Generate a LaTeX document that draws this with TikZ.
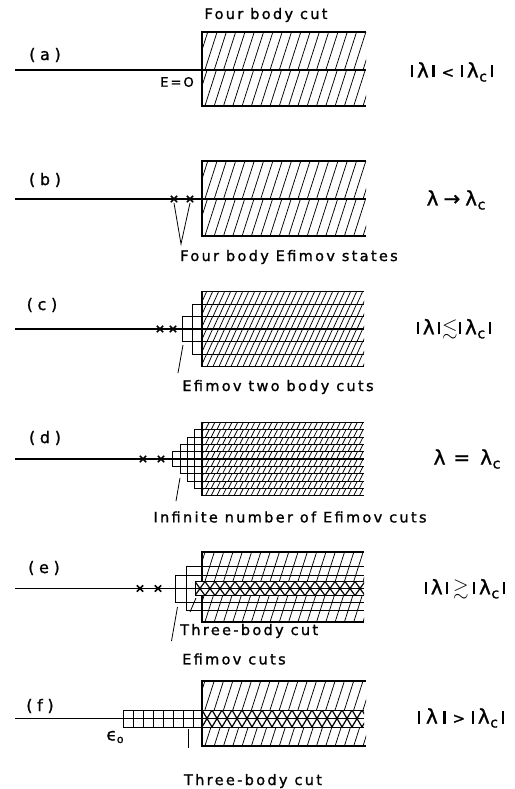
\documentclass[tikz,border=0pt]{standalone}
\usepackage{fontspec}
\usepackage{amssymb}
\setmainfont{DejaVu Sans}
\newfontfamily\lblfont[LetterSpace=16,FakeBold=1.2]{DejaVu Sans}
\newfontfamily\parfont[LetterSpace=29,FakeBold=1.2]{DejaVu Sans}
\newfontfamily\relfont[FakeBold=1.2]{DejaVu Sans}
\newcommand\myvbar{\kern0.18em\rule[0em]{0.11em}{0.62em}\kern0.18em}
\newcommand\lamc{λ\kern0.03em\raisebox{-0.2em}{\fontsize{14}{14}\selectfont c}}
\newcommand\hstrip[6]{%
  \begin{scope}
    \clip (#1,#2) rectangle (#3,#4);
    \pgfmathsetmacro\hsh{(#4)-(#2)}
    \pgfmathsetmacro\hsb{#4}
    \foreach \k in {0,...,45}{
      \draw[hatchline] ({#1-25+\k*#5},\hsb) -- ++({#6*\hsh},{-\hsh});
    }
  \end{scope}}
\newcommand\zigband[5]{%
  \begin{scope}
    \clip (#1,#3) rectangle (#2,#5);
    \foreach \k in {0,...,18}{
      \draw[zigline] ({#1+\k*10},#3) -- ({#1+\k*10+5},#4) -- ({#1+\k*10+10},#3)
                     ({#1+\k*10},#5) -- ({#1+\k*10+5},#4) -- ({#1+\k*10+10},#5);
    }
  \end{scope}}
\newcommand\crossat[2]{\draw[crossline] ({#1-3.2},{#2-3.2}) -- ({#1+3.2},{#2+3.2}) ({#1-3.2},{#2+3.2}) -- ({#1+3.2},{#2-3.2});}
\tikzset{
  axisline/.style={line width=1.8pt},
  boxline/.style={line width=1.5pt},
  gridline/.style={line width=1.0pt},
  hatchline/.style={line width=0.75pt},
  zigline/.style={line width=1.2pt},
  crossline/.style={line width=1.5pt},
  pointer/.style={line width=0.8pt},
  lab/.style={font=\lblfont\fontsize{14.5}{16}\selectfont, inner sep=0pt},
  plabel/.style={font=\parfont\fontsize{16}{18}\selectfont, inner sep=0pt},
  rlab/.style={font=\relfont\fontsize{20}{22}\selectfont, inner sep=0pt},
}
\begin{document}
\begin{tikzpicture}[x=1pt,y=-1pt]
\useasboundingbox[fill=white] (0,0) rectangle (514,789);

% ---------------- (a)
\node[plabel] (pa) at (45,55) {(a)};
\hstrip{202}{32}{366}{70}{9.3}{0.32}
\hstrip{202}{70}{366}{106}{9.3}{0.32}
\draw[boxline] (366,32) -- (202,32) -- (202,106) -- (366,106);
\draw[axisline] (15,70) -- (366,70);
\node[lab] (ta) at (266,15) {Four body cut};
\node[lab, font=\lblfont\fontsize{13}{14}\selectfont] (ea) at (177,82) {E=O};
\node[rlab] (ra) at (452,72) {\myvbar λ\myvbar\,{\fontsize{15}{15}\selectfont <}\,\myvbar\lamc\myvbar};

% ---------------- (b)
\node[plabel] (pb) at (45,180) {(b)};
\hstrip{202}{161}{366}{199}{9.3}{0.32}
\hstrip{202}{199}{366}{236}{9.3}{0.32}
\draw[boxline] (366,161) -- (202,161) -- (202,236) -- (366,236);
\draw[axisline] (15,199) -- (366,199);
\crossat{174}{199}
\crossat{190}{199}
\coordinate (vb) at (181,244);
\draw[pointer] (174,203) -- (vb) -- (190,203);
\node[lab] (tb) at (289,257) {Four body Efimov states};
\node[rlab] (rb) at (456,200) {λ\kern0.25em→\kern0.25em\lamc};

% ---------------- (c)
\node[plabel] (pc) at (42,305) {(c)};
\foreach \j in {-3,...,2}{
  \hstrip{202}{329+\j*12.5}{364}{329+\j*12.5+12.5}{6}{0.45}
}
\draw[boxline] (364,291.5) -- (202,291.5) -- (202,366.5) -- (364,366.5);
\draw[gridline] (192,304) rectangle (202,354);
\draw[gridline] (182,316.5) rectangle (192,341.5);
\draw[gridline] (182,316.5) -- (364,316.5) (182,341.5) -- (364,341.5);
\draw[gridline] (192,304) -- (364,304) (192,354) -- (364,354);
\draw[axisline] (15,329) -- (364,329);
\crossat{160}{329}
\crossat{173}{329}
\coordinate (pcend) at (178,373);
\draw[pointer] (183,345) -- (pcend);
\node[lab] (tc) at (278,387) {Efimov two body cuts};
\node[rlab] (rc) at (454,329) {\myvbar λ\myvbar\kern-0.1em$\lesssim$\kern-0.1em\myvbar\lamc\myvbar};

% ---------------- (d)
\node[plabel] (pd) at (45,438) {(d)};
\foreach \j in {-5,...,4}{
  \hstrip{202}{459+\j*7.333}{364}{459+\j*7.333+7.333}{5.7}{0.5}
}
\draw[boxline] (364,422.33) -- (202,422.33) -- (202,495.67) -- (364,495.67);
\foreach \k in {1,...,4}{
  \draw[gridline] ({202-\k*7.333},{459-(5-\k)*7.333}) rectangle (202,{459+(5-\k)*7.333});
}
\foreach \j in {1,...,4}{
  \draw[gridline] ({202-(5-\j)*7.333},{459+\j*7.333}) -- (364,{459+\j*7.333});
  \draw[gridline] ({202-(5-\j)*7.333},{459-\j*7.333}) -- (364,{459-\j*7.333});
}
\draw[axisline] (15,459) -- (364,459);
\crossat{143}{459}
\crossat{161}{459}
\coordinate (pdend) at (176,501);
\draw[pointer] (180,478) -- (pdend);
\node[lab] (td) at (290,517) {Infinite number of Efimov cuts};
\node[rlab] (rd) at (467,459) {λ\kern0.4em=\kern0.5em\lamc};

% ---------------- (e)
\node[plabel] (pe) at (44,568) {(e)};
\hstrip{202}{552}{364}{581.5}{9.3}{0.32}
\hstrip{202}{595.5}{364}{622}{9.3}{0.32}
\draw[boxline] (364,552) -- (202,552) -- (202,622) -- (364,622);
\draw[gridline] (186,566.5) rectangle (202,610.5);
\draw[gridline] (175,575) rectangle (186,602);
\draw[gridline] (186,566.5) -- (364,566.5) (186,610.5) -- (364,610.5);
\draw[gridline] (186,575) -- (364,575) (186,602) -- (364,602);
\fill[white] (195,581.5) rectangle (364,595.5);
\zigband{195}{364}{581.5}{588.5}{595.5}
\draw[gridline] (364,581.5) -- (195,581.5) -- (195,595.5) -- (364,595.5);
\draw[axisline] (15,588.5) -- (364,588.5);
\crossat{140}{588.5}
\crossat{158}{588.5}
\coordinate (pe1) at (171.5,641);
\coordinate (pe2) at (190,612);
\draw[pointer] (177.5,607) -- (pe1);
\draw[pointer] (196,598) -- (pe2);
\node[lab, anchor=west] (te1) at (180,631) {Three-body cut};
\node[lab, anchor=west] (te2) at (182,659) {Efimov cuts};
\node[rlab] (re) at (465,589) {\myvbar λ\myvbar\kern0.05em$\gtrsim$\kern0.05em\myvbar\lamc\myvbar};

% ---------------- (f)
\node[plabel] (pf) at (40,706) {(f)};
\hstrip{202}{681}{366}{710}{9.3}{0.32}
\hstrip{202}{727}{366}{746}{9.3}{0.32}
\draw[boxline] (366,681) -- (202,681) -- (202,746) -- (366,746);
\zigband{202}{364}{710}{718.5}{727}
\draw[gridline] (364,710) -- (123,710) -- (123,727) -- (364,727);
\foreach \x in {133,143,...,193,202}{
  \draw[gridline] (\x,710) -- (\x,727);
}
\draw[axisline] (15,718.5) -- (364,718.5);
\node[lab, font=\relfont\fontsize{17}{19}\selectfont] (eps) at (115,737) {ϵ\raisebox{-0.15em}{\fontsize{11}{11}\selectfont o}};
\coordinate (pfend) at (188,748);
\draw[pointer] (188,729) -- (pfend);
\node[lab] (tf) at (253,781) {Three-body cut};
\node[rlab] (rf) at (461,718) {\myvbar\kern0.1em λ\kern0.1em\myvbar\,{\fontsize{15}{15}\selectfont >}\,\myvbar\lamc\myvbar};
\end{tikzpicture}
\end{document}
